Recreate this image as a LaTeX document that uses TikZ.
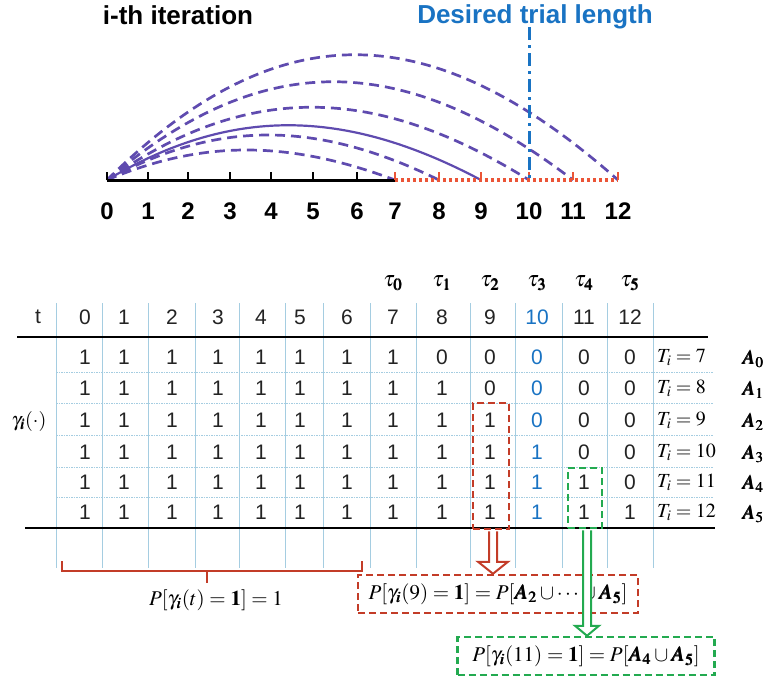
\documentclass[tikz,border=0pt]{standalone}
\usepackage{mathptmx}
\usepackage{bm}
\usepackage{fontspec}
\setmainfont{Liberation Serif}
\setsansfont{Liberation Sans}
\usetikzlibrary{calc}
\definecolor{arcc}{RGB}{95,75,175}
\definecolor{bluec}{RGB}{25,115,195}
\definecolor{redc}{RGB}{195,60,40}
\definecolor{dotred}{RGB}{235,85,55}
\definecolor{greenc}{RGB}{35,170,80}
\definecolor{gridc}{RGB}{165,205,225}
\definecolor{txt}{RGB}{35,35,35}
\tikzset{
  title/.style={font=\sffamily\bfseries\fontsize{26}{26}\selectfont, inner sep=0pt},
  axlab/.style={font=\sffamily\bfseries\fontsize{24}{24}\selectfont, inner sep=0pt},
  cell/.style={font=\sffamily\fontsize{21}{21}\selectfont, inner sep=0pt},
  mth/.style={font=\fontsize{20}{20}\selectfont, inner sep=0pt},
  arcd/.style={arcc, line width=2.7pt, dash pattern=on 10pt off 6pt},
  arcsolid/.style={arcc, line width=2.2pt},
  tickb/.style={line width=2pt},
  gridv/.style={gridc, line width=1pt},
  gridh/.style={gridc, line width=1pt, dash pattern=on 1.5pt off 1pt},
  rule/.style={line width=2.5pt},
  redbox/.style={draw=redc, line width=2.5pt, dash pattern=on 7pt off 4pt},
  greenbox/.style={draw=greenc, line width=2.5pt, dash pattern=on 7pt off 4pt},
  hollow/.style={line width=2pt, fill=white},
}
\begin{document}
\begin{tikzpicture}[x=1pt,y=-1pt]
\useasboundingbox (0,0) rectangle (769,681);
% ---------- top: iterations ----------
\node[title] (ith) at (178,15) {i-th iteration};
\node[title, text=bluec] (dtl) at (535,17) {Desired trial length};
\foreach \x [count=\i from 0] in {107,148,188,230,271,313,357,395,439,481,529,573,618} {
  \coordinate (t\i) at (\x,180);
  \node[axlab] (l\i) at (\x,211) {\i};
}
% arcs
\draw[arcd] (t0) .. controls ($(t0)+(95,-40)$) and ($(t7)+(-107,-40)$) .. (t7);
\draw[arcd] (t0) .. controls ($(t0)+(110,-60)$) and ($(t8)+(-123,-60)$) .. (t8);
\draw[arcsolid] (t0) .. controls ($(t0)+(123,-73)$) and ($(t9)+(-138,-73)$) .. (t9);
\draw[arcd] (t0) .. controls ($(t0)+(139,-97)$) and ($(t10)+(-156,-97)$) .. (t10);
\draw[arcd] (t0) .. controls ($(t0)+(154,-131)$) and ($(t11)+(-172,-131)$) .. (t11);
\draw[arcd] (t0) .. controls ($(t0)+(169,-167)$) and ($(t12)+(-189,-167)$) .. (t12);
% axis
\draw[line width=3pt] (t0) -- (t7);
\draw[dotred, line width=3.5pt, dash pattern=on 3pt off 3pt] (t7) -- (t12);
\foreach \i in {0,...,6} { \draw[tickb] (t\i) -- ++(0,-8); }
\foreach \i in {7,...,12} { \draw[tickb, dotred] (t\i) -- ++(0,-8); }
% desired trial length line
\coordinate (dtop) at (529,27);
\draw[bluec, line width=3pt, dash pattern=on 13pt off 5pt on 3pt off 5pt] (dtop) -- (t10);
% ---------- table ----------
\foreach \x in {56,102,148,195,239,285,323,370,416,470,515,562,607,653} {
  \draw[gridv] (\x,303) -- (\x,568);
}
\foreach \y in {372,403,435,467,497} {
  \draw[gridh] (56,\y) -- (713,\y);
}
\draw[rule] (17,337) -- (708,337);
\draw[rule] (25,528) -- (715,528);
\node[cell, text=txt] (ht) at (38,317) {t};
\foreach \x [count=\c from 0] in {85,124,172,218,261,300,347,393,442,490,537,584,630} {
  \ifnum\c=10 \def\cc{bluec}\else\def\cc{txt}\fi
  \node[cell, text=\cc] (h\c) at (\x,317) {\c};
}
\foreach \x [count=\k from 0] in {393,442,490,537,584,630} {
  \node[mth, font=\fontsize{22}{22}\selectfont] (tau\k) at (\x,283) {$\tau_{\bm{\k}}$};
}
\foreach \vals [count=\r from 0] in {
  {1,1,1,1,1,1,1,1,0,0,0,0,0},
  {1,1,1,1,1,1,1,1,1,0,0,0,0},
  {1,1,1,1,1,1,1,1,1,1,0,0,0},
  {1,1,1,1,1,1,1,1,1,1,1,0,0},
  {1,1,1,1,1,1,1,1,1,1,1,1,0},
  {1,1,1,1,1,1,1,1,1,1,1,1,1}} {
  \pgfmathsetmacro{\ry}{{357,388,420,452,482,512}[\r]}
  \foreach \v [count=\c from 0] in \vals {
    \pgfmathsetmacro{\cx}{{85,124,172,218,261,300,347,393,442,490,537,584,630}[\c]}
    \ifnum\c=10 \def\cc{bluec}\else\def\cc{txt}\fi
    \node[cell, text=\cc] (v\r-\c) at (\cx,\ry) {\v};
  }
  \pgfmathtruncatemacro{\tv}{\r+7}
  \node[mth, anchor=west] (T\r) at (657,\ry) {$T_i=\tv$};
  \node[mth] (A\r) at (753,\ry+2) {$\bm{A}_{\bm{\r}}$};
}
\node[mth] (gam) at (29,421) {$\gamma_{\bm i}(\cdot)$};
% highlighted columns
\node[redbox, minimum width=36pt, minimum height=126pt] (rbox) at (491,466) {};
\node[greenbox, minimum width=34pt, minimum height=60pt] (gbox) at (585,498) {};
% ---------- bottom ----------
\coordinate (brL) at (62,561);
\coordinate (brR) at (362,561);
\coordinate (brM) at (207,583);
\draw[redc, line width=2.5pt] (brL) -- (62,571) -- (362,571) -- (brR);
\draw[redc, line width=2.5pt] (207,571) -- (brM);
\node[mth, font=\fontsize{21}{21}\selectfont] (pone) at (216,600) {$P[\gamma_{\bm i}(t)=\mathbf{1}]=1$};
\node[redbox, fill=white, minimum width=280pt, minimum height=38pt, inner sep=0pt,
      font=\fontsize{21}{21}\selectfont] (rlab) at (498,594)
  {$P[\gamma_{\bm i}(9)=\mathbf{1}]=P[\bm{A}_{\bm 2}\cup\cdots\cup\bm{A}_{\bm 5}]$};
\node[greenbox, fill=white, minimum width=257pt, minimum height=38pt, inner sep=0pt,
      font=\fontsize{21}{21}\selectfont] (glab) at (586,656)
  {$P[\gamma_{\bm i}(11)=\mathbf{1}]=P[\bm{A}_{\bm 4}\cup\bm{A}_{\bm 5}]$};
% hollow arrows
\coordinate (ra) at ($(rbox.south)+(2,1)$);
\coordinate (rb) at (ra |- rlab.north);
\draw[hollow, draw=redc] ($(ra)+(-4,0)$) -- ($(rb)+(-4,-12)$) -- ($(rb)+(-15,-12)$) -- (rb)
  -- ($(rb)+(15,-12)$) -- ($(rb)+(4,-12)$) -- ($(ra)+(4,0)$);
\coordinate (ga) at ($(gbox.south)+(2,1)$);
\coordinate (gb) at (ga |- glab.north);
\draw[hollow, draw=greenc] ($(ga)+(-4,0)$) -- ($(gb)+(-4,-10)$) -- ($(gb)+(-12,-10)$) -- (gb)
  -- ($(gb)+(12,-10)$) -- ($(gb)+(4,-10)$) -- ($(ga)+(4,0)$);
\end{tikzpicture}
\end{document}
